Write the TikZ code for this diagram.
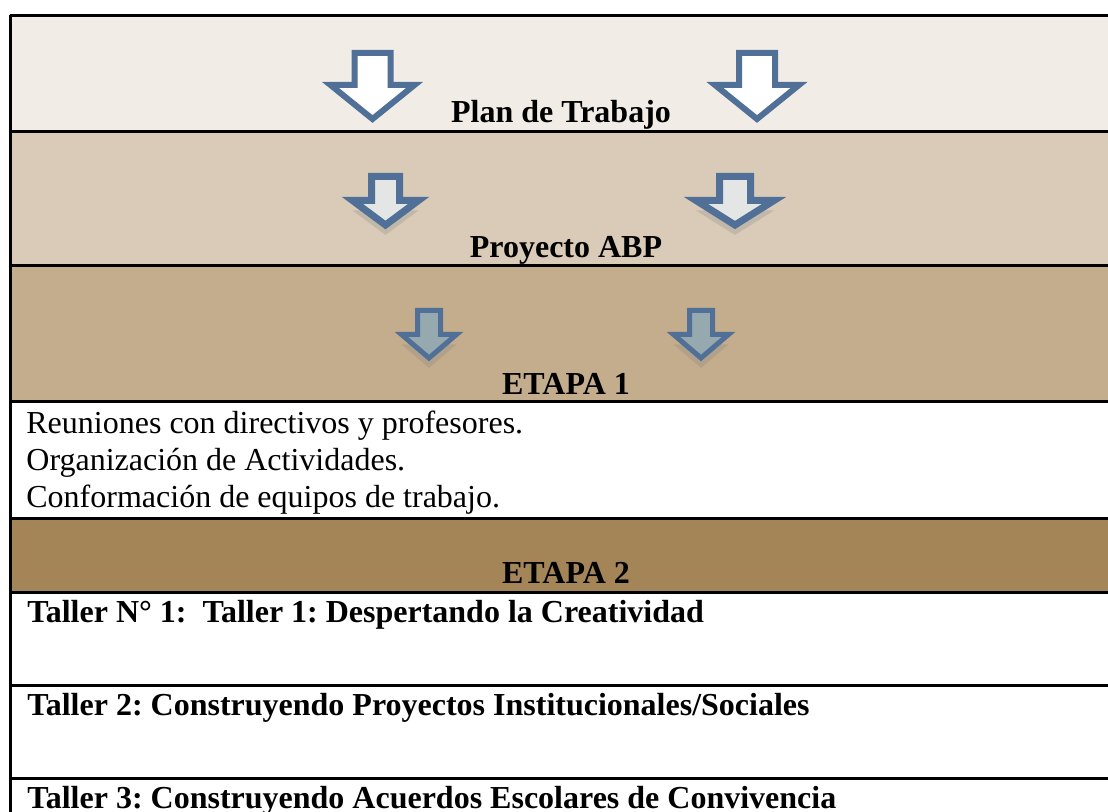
\documentclass[tikz,border=0pt]{standalone}
\usepackage{fontspec}
\setmainfont{Liberation Serif}
\usetikzlibrary{shadows}
\frenchspacing
\definecolor{plan}{RGB}{241,237,230}
\definecolor{proy}{RGB}{217,203,184}
\definecolor{etauno}{RGB}{196,173,140}
\definecolor{etados}{RGB}{163,133,88}
\definecolor{azul}{RGB}{80,112,152}
\definecolor{gris}{RGB}{228,229,229}
\definecolor{grisazul}{RGB}{149,169,174}

% flecha hacia abajo : centre x, haut, epaule, pointe, demi-corps, demi-tete
\newcommand{\flecha}[7][]{%
	\draw[#1] (#2-#6,#3) -- (#2+#6,#3) -- (#2+#6,#4) -- (#2+#7,#4) -- (#2,#5)
		-- (#2-#7,#4) -- (#2-#6,#4) -- cycle;}

\begin{document}
\begin{tikzpicture}[x=0.5pt,y=-0.5pt,
		linea/.style={line width=1.5pt,black},
		titulo/.style={anchor=base,inner sep=0pt,font=\fontsize{16}{19}\selectfont\bfseries},
		texto/.style={anchor=base west,inner sep=0pt,font=\fontsize{16}{19}\selectfont},
		taller/.style={texto,font=\fontsize{16}{19}\selectfont\bfseries},
		fa/.style={draw=azul,fill=white,line width=3pt},
		fb/.style={draw=azul,fill=gris,line width=3.5pt,
			drop shadow={shadow xshift=0pt,shadow yshift=-5pt,opacity=.25}},
		fc/.style={draw=azul,fill=grisazul,line width=2.5pt,
			drop shadow={shadow xshift=0pt,shadow yshift=-5pt,opacity=.25}}]
	\useasboundingbox (0,0) rectangle (1108,812);
	% les bandes
	\fill[plan] (10,15) rectangle (1108,132);
	\fill[proy] (10,132) rectangle (1108,266);
	\fill[etauno] (10,266) rectangle (1108,402);
	\fill[etados] (10,518) rectangle (1108,592);
	\foreach \y in {15.3,132,266,402,518,592,685,778}{
		\draw[linea] (10,\y) -- (1108,\y);}
	\draw[linea] (10.3,15) -- (10.3,812);
	% les fleches
	\foreach \x in {372.5,757}{
		\flecha[fa]{\x}{53}{85}{119}{18}{42}}
	\flecha[fb]{385.5}{176.5}{200.5}{225}{14}{33}
	\flecha[fb]{735}{176.5}{200.5}{225}{15.5}{39}
	\foreach \x in {429,701}{
		\flecha[fc]{\x}{310.5}{334.5}{358}{11.5}{27.5}}
	% les textes
	\node[titulo] (plan) at (561,123) {Plan de Trabajo};
	\node[titulo] (abp) at (566,258) {Proyecto ABP};
	\node[titulo] (e1) at (566,395) {ETAPA 1};
	\node[texto] (reu) at (26,434) {Reuniones con directivos y profesores.};
	\node[texto] (org) at (26,470) {Organización de Actividades.};
	\node[texto] (conf) at (26,507) {Conformación de equipos de trabajo.};
	\node[titulo] (e2) at (566,583) {ETAPA 2};
	\node[taller] (t1) at (27,622) {Taller N° 1:\ \ Taller 1: Despertando la Creatividad};
	\node[taller] (t2) at (27,715) {Taller 2: Construyendo Proyectos Institucionales/Sociales};
	\node[taller] (t3) at (27,808) {Taller 3: Construyendo Acuerdos Escolares de Convivencia};
\end{tikzpicture}
\end{document}
